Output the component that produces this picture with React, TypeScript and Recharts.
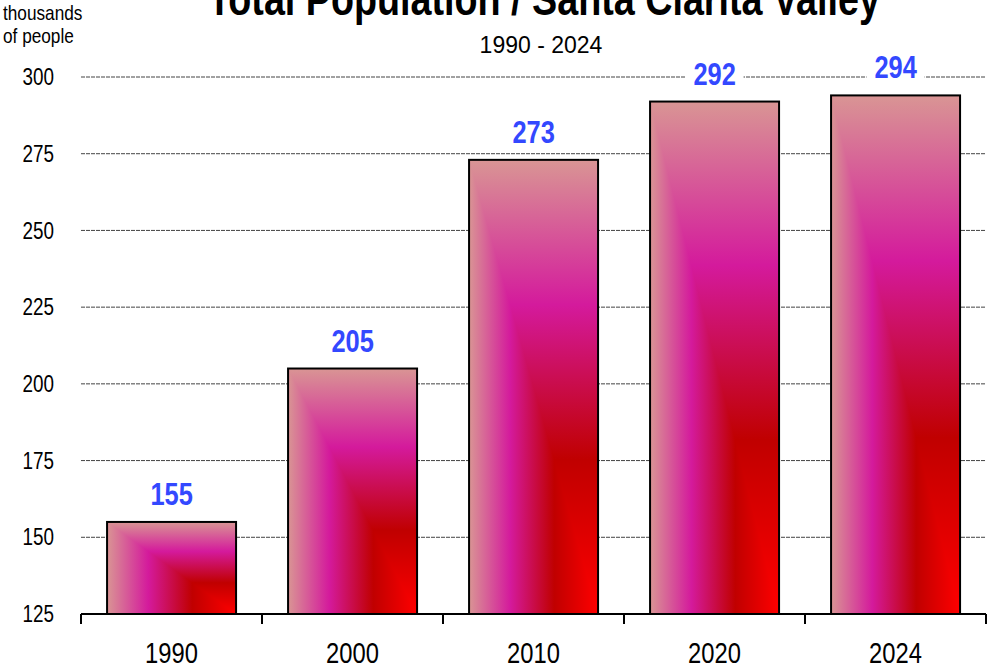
import { BarChart, Bar, XAxis, YAxis, CartesianGrid, LabelList } from "recharts";

const years = ["1990", "2000", "2010", "2020", "2024"];
const population = [155, 205, 273, 292, 294]; // thousands
const yTicks = [125, 150, 175, 200, 225, 250, 275, 300];

const data = years.map((year, i) => ({ year, value: population[i] }));

const W = 989;
const H = 669;
const M = { top: 77, right: 3, left: 0, bottom: 15 };
const Y_W = 81;
const BAND = (W - M.left - M.right - Y_W) / years.length;

const sans = "'Liberation Sans', Arial, sans-serif";
const SQUEEZE = 0.82; // no Arial Narrow installed, squeeze Liberation Sans instead

// condensed text helper
const NText = ({ x, y, anchor = "start", size, bold = false, fill = "#000", dy, children }: any) => (
  <text
    transform={`translate(${x},${y}) scale(${SQUEEZE},1)`}
    textAnchor={anchor}
    fontFamily={sans}
    fontWeight={bold ? "bold" : "normal"}
    fontSize={size}
    fill={fill}
    dy={dy}
  >
    {children}
  </text>
);

// bar with a "rectangle path" gradient from bottom right corner
const GradientBar = (props: any) => {
  const { x, y, width, height } = props;
  if (!height || height <= 0) return null;
  return (
    <g>
      <rect x={x} y={y} width={width} height={height} fill="url(#gradH)" />
      <polygon
        points={`${x},${y} ${x + width},${y} ${x + width},${y + height}`}
        fill="url(#gradV)"
      />
      <rect x={x} y={y} width={width} height={height} fill="none" stroke="#000" strokeWidth={2} />
    </g>
  );
};

const ValueLabel = (props: any) => {
  const { x, y, width, value } = props;
  const cx = x + width / 2;
  return (
    <g>
      <rect x={cx - 29} y={y - 43} width={58} height={32} fill="#fff" />
      <NText x={cx} y={y - 17} anchor="middle" size={31} bold fill="#3348ff">
        {value}
      </NText>
    </g>
  );
};

const YearTick = (props: any) => {
  const { x, y, payload, index } = props;
  return (
    <g>
      <line x1={x - BAND / 2} x2={x - BAND / 2} y1={y} y2={y + 10} stroke="#000" strokeWidth={2} />
      {index === years.length - 1 && (
        <line x1={x + BAND / 2} x2={x + BAND / 2} y1={y} y2={y + 10} stroke="#000" strokeWidth={2} />
      )}
      <NText x={x} y={y + 49} anchor="middle" size={29}>
        {payload.value}
      </NText>
    </g>
  );
};

const ValueTick = (props: any) => {
  const { x, y, payload } = props;
  return (
    <NText x={x} y={y} anchor="end" size={23} dy="0.355em">
      {payload.value}
    </NText>
  );
};

export default function App() {
  return (
    <div style={{ position: "absolute", left: 0, top: 0, width: W, height: H, background: "#fff" }}>
      <BarChart width={W} height={H} data={data} margin={M} barCategoryGap="14.4%">
        <defs>
          <linearGradient id="gradH" x1="0" y1="0" x2="1" y2="0">
            <stop offset="0" stopColor="#d99594" />
            <stop offset="0.32" stopColor="#d41a9c" />
            <stop offset="0.66" stopColor="#c00000" />
            <stop offset="1" stopColor="#ff0000" />
          </linearGradient>
          <linearGradient id="gradV" x1="0" y1="0" x2="0" y2="1">
            <stop offset="0" stopColor="#d99594" />
            <stop offset="0.32" stopColor="#d41a9c" />
            <stop offset="0.66" stopColor="#c00000" />
            <stop offset="1" stopColor="#ff0000" />
          </linearGradient>
        </defs>
        <CartesianGrid vertical={false} stroke="#444" strokeDasharray="4 1" />
        <YAxis
          width={Y_W}
          domain={[125, 300]}
          ticks={yTicks}
          allowDataOverflow
          tickLine={false}
          axisLine={false}
          tickMargin={21}
          tick={<ValueTick />}
        />
        <XAxis
          dataKey="year"
          height={40}
          tickSize={0}
          tickMargin={0}
          tickLine={false}
          axisLine={{ stroke: "#000", strokeWidth: 2 }}
          tick={<YearTick />}
          interval={0}
        />
        <Bar dataKey="value" shape={<GradientBar />} isAnimationActive={false}>
          <LabelList dataKey="value" content={<ValueLabel />} />
        </Bar>
      </BarChart>
      <svg
        width={W}
        height={H}
        style={{ position: "absolute", left: 0, top: 0, pointerEvents: "none" }}
      >
        <NText x={544} y={15} anchor="middle" size={46} bold>
          Total Population / Santa Clarita Valley
        </NText>
        <text x={541} y={53} textAnchor="middle" fontFamily={sans} fontSize={23} fill="#000">
          1990 - 2024
        </text>
        <NText x={3} y={20} size={21}>
          thousands
        </NText>
        <NText x={3} y={43} size={21}>
          of people
        </NText>
      </svg>
    </div>
  );
}
